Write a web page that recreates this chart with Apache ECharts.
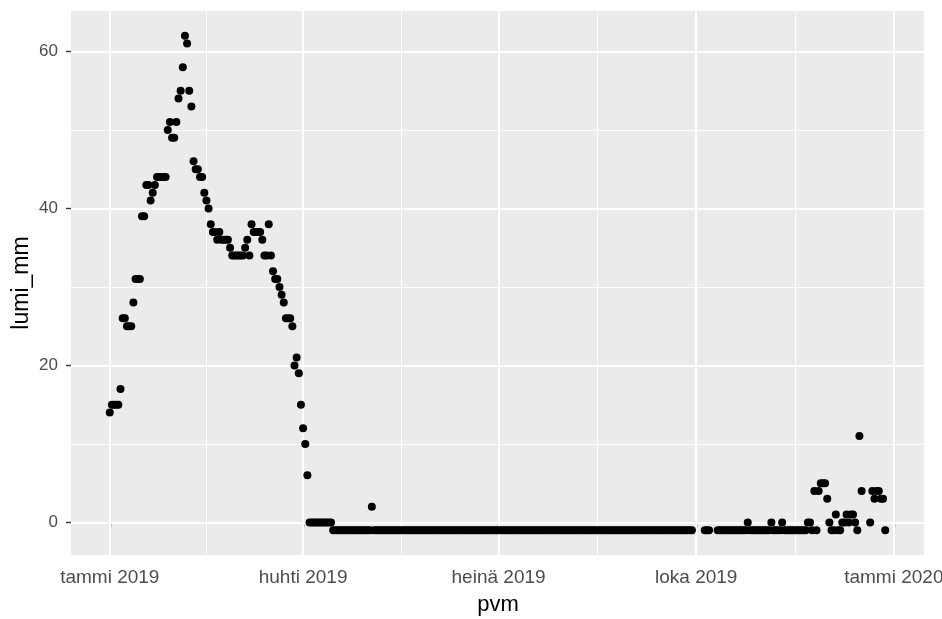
<!DOCTYPE html>
<html>
<head>
<meta charset="utf-8">
<script src="https://cdn.jsdelivr.net/npm/echarts@6/dist/echarts.min.js"></script>
<style>
  html, body { margin: 0; padding: 0; background: #ffffff; }
  #chart { width: 942px; height: 619px; }
</style>
</head>
<body>
<div id="chart"></div>
<script>
// Daily snow depth (mm) for 2019; index 0 = 1 Jan 2019, null = no observation.
const startDate = '2019-01-01';
const lumiMm = [
  14, 15, 15, 15, 15, 17, 26, 26, 25, 25,   // d0
  25, 28, 31, 31, 31, 39, 39, 43, 43, 41,   // d10
  42, 43, 44, 44, 44, 44, 44, 50, 51, 49,   // d20
  49, 51, 54, 55, 58, 62, 61, 55, 53, 46,   // d30
  45, 45, 44, 44, 42, 41, 40, 38, 37, 37,   // d40
  36, 37, 36, 36, 36, 36, 35, 34, 34, 34,   // d50
  34, 34, 34, 35, 36, 34, 38, 37, 37, 37,   // d60
  37, 36, 34, 34, 38, 34, 32, 31, 31, 30,   // d70
  29, 28, 26, 26, 26, 25, 20, 21, 19, 15,   // d80
  12, 10, 6, 0, 0, 0, 0, 0, 0, 0,           // d90
  0, 0, 0, 0, -1, -1, -1, -1, -1, -1,       // d100
  -1, -1, -1, -1, -1, -1, -1, -1, -1, -1,   // d110
  -1, -1, 2, -1, -1, -1, -1, -1, -1, -1,    // d120
  -1, -1, -1, -1, -1, -1, -1, -1, -1, -1,   // d130
  -1, -1, -1, -1, -1, -1, -1, -1, -1, -1,   // d140
  -1, -1, -1, -1, -1, -1, -1, -1, -1, -1,   // d150
  -1, -1, -1, -1, -1, -1, -1, -1, -1, -1,   // d160
  -1, -1, -1, -1, -1, -1, -1, -1, -1, -1,   // d170
  -1, -1, -1, -1, -1, -1, -1, -1, -1, -1,   // d180
  -1, -1, -1, -1, -1, -1, -1, -1, -1, -1,   // d190
  -1, -1, -1, -1, -1, -1, -1, -1, -1, -1,   // d200
  -1, -1, -1, -1, -1, -1, -1, -1, -1, -1,   // d210
  -1, -1, -1, -1, -1, -1, -1, -1, -1, -1,   // d220
  -1, -1, -1, -1, -1, -1, -1, -1, -1, -1,   // d230
  -1, -1, -1, -1, -1, -1, -1, -1, -1, -1,   // d240
  -1, -1, -1, -1, -1, -1, -1, -1, -1, -1,   // d250
  -1, -1, -1, -1, -1, -1, -1, -1, -1, -1,   // d260
  -1, -1, null, null, null, null, null, -1, -1, -1,   // d270
  null, null, null, -1, -1, -1, -1, -1, -1, -1,       // d280
  -1, -1, -1, -1, -1, -1, -1, 0, -1, -1,    // d290
  -1, -1, -1, -1, -1, -1, -1, -1, 0, -1,    // d300
  -1, -1, -1, 0, -1, -1, -1, -1, -1, -1,    // d310
  -1, -1, -1, -1, -1, 0, 0, -1, 4, -1,      // d320
  4, 5, 5, 5, 3, 0, -1, -1, 1, -1,          // d330
  -1, 0, 0, 1, 0, 1, 1, 0, -1, 11,          // d340
  4, null, null, null, 0, 4, 3, 4, 4, 3,    // d350
  3, -1, null, null, null                   // d360
];

const tickDates  = ['2019-01-01', '2019-04-01', '2019-07-01', '2019-10-01', '2020-01-01'];
const tickLabels = ['tammi 2019', 'huhti 2019', 'heinä 2019', 'loka 2019', 'tammi 2020'];
const yTicks = [0, 20, 40, 60];
const yMinor = [10, 30, 50];

const DAY = 86400000;
const toTs = s => Date.parse(s + 'T00:00:00Z');
const t0 = toTs(startDate);

const points = [];
lumiMm.forEach((v, i) => { if (v !== null) points.push([t0 + i * DAY, v]); });

// 5% expansion of the data range on both axes
const xs = points.map(p => p[0]);
const ys = points.map(p => p[1]);
const xMin = Math.min(...xs), xMax = Math.max(...xs);
const yMin = Math.min(...ys), yMax = Math.max(...ys);
const xPad = (xMax - xMin) * 0.05, yPad = (yMax - yMin) * 0.05;

const xTickTs = tickDates.map(toTs);
const xMinorTs = xTickTs.slice(1).map((t, i) => (t + xTickTs[i]) / 2);

const FONT = '"Liberation Sans", Arial, sans-serif';
const major = { color: '#ffffff', width: 2, type: 'solid' };
const minor = { color: '#ffffff', width: 1, type: 'solid' };

const gridLines = [
  ...yMinor.map(v => ({ yAxis: v, lineStyle: minor })),
  ...xMinorTs.map(v => ({ xAxis: v, lineStyle: minor })),
  ...yTicks.map(v => ({ yAxis: v, lineStyle: major })),
  ...xTickTs.map(v => ({ xAxis: v, lineStyle: major }))
];

const chart = echarts.init(document.getElementById('chart'), null, { renderer: 'canvas' });
chart.setOption({
  animation: false,
  backgroundColor: '#ffffff',
  grid: {
    left: 71, right: 18, top: 11, bottom: 64,
    outerBoundsMode: 'none',
    containLabel: false,
    show: true, backgroundColor: '#EBEBEB', borderWidth: 0
  },
  xAxis: {
    type: 'value',
    min: xMin - xPad,
    max: xMax + xPad,
    axisLine: { show: false },
    splitLine: { show: false },
    axisTick: { show: true, customValues: xTickTs, length: 5, lineStyle: { color: '#333333', width: 1.4 } },
    axisLabel: {
      customValues: xTickTs,
      formatter: v => tickLabels[xTickTs.indexOf(v)] || '',
      fontFamily: FONT, fontSize: 19, color: '#4D4D4D', margin: 13,
      hideOverlap: false
    }
  },
  yAxis: {
    type: 'value',
    min: yMin - yPad,
    max: yMax + yPad,
    axisLine: { show: false },
    splitLine: { show: false },
    axisTick: { show: true, customValues: yTicks, length: 5, lineStyle: { color: '#333333', width: 1.4 } },
    axisLabel: {
      customValues: yTicks,
      fontFamily: FONT, fontSize: 17, color: '#4D4D4D', margin: 13
    }
  },
  graphic: [
    { type: 'text', x: 22, y: 283, rotation: Math.PI / 2,
      style: { text: 'lumi_mm', font: '23px ' + FONT, fill: '#000000', textAlign: 'center', textVerticalAlign: 'middle' } },
    { type: 'text', x: 498, y: 605,
      style: { text: 'pvm', font: '22px ' + FONT, fill: '#000000', textAlign: 'center', textVerticalAlign: 'middle' } }
  ],
  series: [
    {
      type: 'scatter', data: [], z: 1, silent: true,
      markLine: { silent: true, symbol: ['none', 'none'], label: { show: false }, animation: false, data: gridLines }
    },
    {
      type: 'scatter', data: points, zlevel: 1, z: 3,
      symbol: 'circle', symbolSize: 8,
      itemStyle: { color: '#000000', opacity: 1 },
      emphasis: { disabled: true }
    }
  ]
});
</script>
</body>
</html>
